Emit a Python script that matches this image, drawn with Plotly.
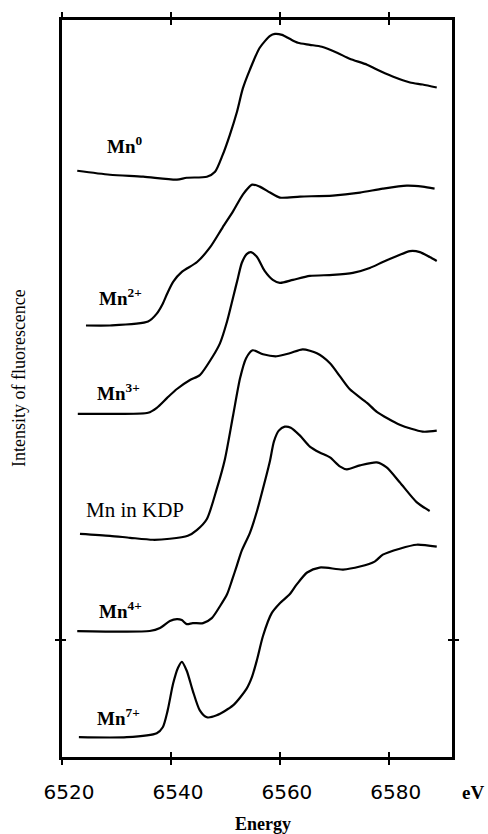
import plotly.graph_objects as go

# Energy (eV) and fluorescence intensity (arbitrary units, stacked)
mn0_e = [6522.8, 6528.8, 6534.9, 6541.1, 6542.9, 6546.6, 6548.1, 6549.5, 6550.8, 6552.1, 6553.2, 6554.5,
         6556.3, 6558.2, 6559.1, 6560.4, 6561.8, 6563.3, 6565.5, 6567.7, 6570.5, 6572.8, 6576.0, 6577.8,
         6580.7, 6583.9, 6586.2, 6588.8]
mn0_i = [5.91, 5.87, 5.85, 5.82, 5.84, 5.85, 5.90, 6.07, 6.27, 6.50, 6.74, 6.93,
         7.15, 7.27, 7.29, 7.28, 7.24, 7.20, 7.18, 7.16, 7.10, 7.04, 6.98, 6.93,
         6.86, 6.80, 6.78, 6.75]

mn2_e = [6524.4, 6528.8, 6535.8, 6537.4, 6538.5, 6539.3, 6540.4, 6542.0, 6544.8, 6547.2, 6549.5, 6551.4,
         6553.2, 6554.9, 6556.3, 6558.2, 6560.0, 6563.7, 6569.7, 6574.7, 6578.9, 6583.3, 6586.2, 6588.4]
mn2_i = [4.35, 4.35, 4.39, 4.47, 4.57, 4.67, 4.79, 4.89, 4.99, 5.14, 5.34, 5.50,
         5.67, 5.77, 5.75, 5.69, 5.64, 5.65, 5.66, 5.69, 5.73, 5.76, 5.75, 5.73]

mn3_e = [6522.9, 6528.8, 6535.8, 6537.4, 6539.3, 6541.1, 6543.5, 6545.3, 6547.7, 6549.0, 6550.3, 6551.4,
         6552.3, 6553.0, 6553.9, 6554.7, 6555.8, 6557.2, 6558.7, 6560.0, 6562.4, 6565.5, 6569.7, 6573.4,
         6576.5, 6578.9, 6581.5, 6583.9, 6585.7, 6587.5, 6588.8]
mn3_i = [3.46, 3.46, 3.47, 3.52, 3.62, 3.71, 3.80, 3.85, 4.04, 4.17, 4.39, 4.63,
         4.83, 4.98, 5.07, 5.09, 5.04, 4.90, 4.81, 4.78, 4.81, 4.85, 4.86, 4.88,
         4.93, 4.99, 5.05, 5.10, 5.09, 5.04, 5.00]

kdp_e = [6523.3, 6528.8, 6532.5, 6536.7, 6539.8, 6543.1, 6544.8, 6546.6, 6548.4, 6549.9, 6551.4, 6552.7,
         6553.8, 6555.0, 6556.9, 6559.4, 6561.8, 6564.2, 6566.8, 6569.2, 6571.0, 6572.8, 6576.0, 6577.8,
         6582.0, 6586.2, 6588.8]
kdp_i = [2.25, 2.23, 2.21, 2.19, 2.20, 2.23, 2.29, 2.40, 2.70, 3.00, 3.44, 3.82,
         4.02, 4.10, 4.06, 4.04, 4.07, 4.11, 4.07, 3.97, 3.84, 3.71, 3.57, 3.48,
         3.35, 3.28, 3.29]

mn4_e = [6522.8, 6536.1, 6538.0, 6539.8, 6541.1, 6542.0, 6542.9, 6544.0, 6545.9, 6547.5, 6549.0, 6550.3,
         6551.2, 6552.1, 6553.0, 6554.5, 6555.8, 6557.2, 6558.2, 6558.9, 6559.8, 6560.9, 6562.0, 6563.7,
         6565.5, 6567.3, 6569.2, 6571.0, 6572.3, 6574.7, 6577.8, 6579.6, 6582.0, 6585.1, 6587.5]
mn4_i = [1.27, 1.27, 1.30, 1.37, 1.39, 1.38, 1.34, 1.35, 1.35, 1.40, 1.52, 1.64,
         1.78, 1.93, 2.08, 2.26, 2.48, 2.77, 2.99, 3.18, 3.29, 3.33, 3.32, 3.24,
         3.13, 3.07, 3.02, 2.93, 2.90, 2.94, 2.97, 2.92, 2.77, 2.57, 2.48]

mn7_e = [6523.1, 6531.9, 6537.4, 6538.5, 6539.4, 6540.4, 6541.3, 6542.0, 6542.9, 6544.0, 6545.3, 6546.6,
         6548.4, 6551.4, 6553.9, 6554.9, 6555.8, 6556.9, 6558.5, 6560.0, 6561.8, 6563.1, 6565.0, 6567.3,
         6571.6, 6574.7, 6577.4, 6578.9, 6582.0, 6585.1, 6588.8]
mn7_i = [0.20, 0.20, 0.24, 0.30, 0.47, 0.74, 0.90, 0.96, 0.87, 0.67, 0.47, 0.40,
         0.42, 0.52, 0.69, 0.81, 0.98, 1.22, 1.45, 1.55, 1.64, 1.74, 1.86, 1.91,
         1.89, 1.92, 1.97, 2.04, 2.10, 2.14, 2.12]

x_ticks = [6520, 6540, 6560, 6580]
y_ticks = [1.18]

series = [
    ("Mn<sup>0</sup>", mn0_e, mn0_i, 6527.9, 6.17, True),
    ("Mn<sup>2+</sup>", mn2_e, mn2_i, 6526.4, 4.64, True),
    ("Mn<sup>3+</sup>", mn3_e, mn3_i, 6526.1, 3.68, True),
    ("Mn in KDP", kdp_e, kdp_i, 6524.0, 2.49, False),
    ("Mn<sup>4+</sup>", mn4_e, mn4_i, 6526.4, 1.48, True),
    ("Mn<sup>7+</sup>", mn7_e, mn7_i, 6526.1, 0.40, True),
]

fig = go.Figure()
annotations = []
for name, e, i, lx, ly, bold in series:
    fig.add_trace(go.Scatter(x=e, y=i, mode="lines", name=name,
                             line=dict(color="black", width=2.2, shape="spline", smoothing=0.7),
                             showlegend=False, hoverinfo="skip"))
    annotations.append(dict(x=lx, y=ly, xref="x", yref="y", xanchor="left", yanchor="middle",
                            text=f"<b>{name}</b>" if bold else name, showarrow=False,
                            font=dict(family="Liberation Serif", size=19 if bold else 21, color="black")))

L, R, T, B = 62, 36, 14, 77
pw, ph = 488 - L - R, 834 - T - B
annotations += [
    dict(x=(473 - L) / pw, y=(834 - B - 793) / ph, xref="paper", yref="paper", xanchor="center",
         yanchor="middle", text="<b>eV</b>", showarrow=False,
         font=dict(family="Liberation Serif", size=19, color="black")),
    dict(x=(263 - L) / pw, y=(834 - B - 825) / ph, xref="paper", yref="paper", xanchor="center",
         yanchor="middle", text="<b>Energy</b>", showarrow=False,
         font=dict(family="Liberation Serif", size=18, color="black")),
    dict(x=(19 - L) / pw, y=(834 - B - 375) / ph, xref="paper", yref="paper", xanchor="center",
         yanchor="middle", text="Intensity of fluorescence", textangle=-90,
         showarrow=False, font=dict(family="Liberation Serif", size=18, color="black")),
]

x_range = [6520.0, 6591.6]
y_range = [0, 7.43]

fig.update_layout(
    width=488, height=834,
    margin=dict(l=L, r=R, t=T, b=B),
    paper_bgcolor="white", plot_bgcolor="white",
    annotations=annotations,
    xaxis=dict(range=x_range, tickvals=x_ticks, ticks="outside", ticklen=5, tickwidth=1.5,
               tickcolor="black", mirror="allticks", showline=True, linewidth=2.5, linecolor="black",
               showgrid=False, zeroline=False, ticklabelstandoff=10, ticklabelshift=7,
               tickfont=dict(family="DejaVu Sans", size=20, color="black")),
    yaxis=dict(range=y_range, tickvals=y_ticks, ticks="outside", ticklen=4, tickwidth=1.5,
               tickcolor="black", mirror="allticks", showline=True, linewidth=2.5, linecolor="black",
               showgrid=False, zeroline=False, showticklabels=False),
    xaxis2=dict(range=x_range, tickvals=x_ticks, ticks="inside", ticklen=5, tickwidth=1.5,
                tickcolor="black", mirror="allticks", overlaying="x", showticklabels=False,
                showgrid=False, zeroline=False, showline=False),
    yaxis2=dict(range=y_range, tickvals=y_ticks, ticks="inside", ticklen=4, tickwidth=1.5,
                tickcolor="black", mirror="allticks", overlaying="y", showticklabels=False,
                showgrid=False, zeroline=False, showline=False),
)
fig.add_trace(go.Scatter(x=[x_range[0]], y=[y_range[0]], xaxis="x2", yaxis="y2", mode="markers",
                         marker=dict(opacity=0), showlegend=False, hoverinfo="skip"))

fig.write_html("out.html")
